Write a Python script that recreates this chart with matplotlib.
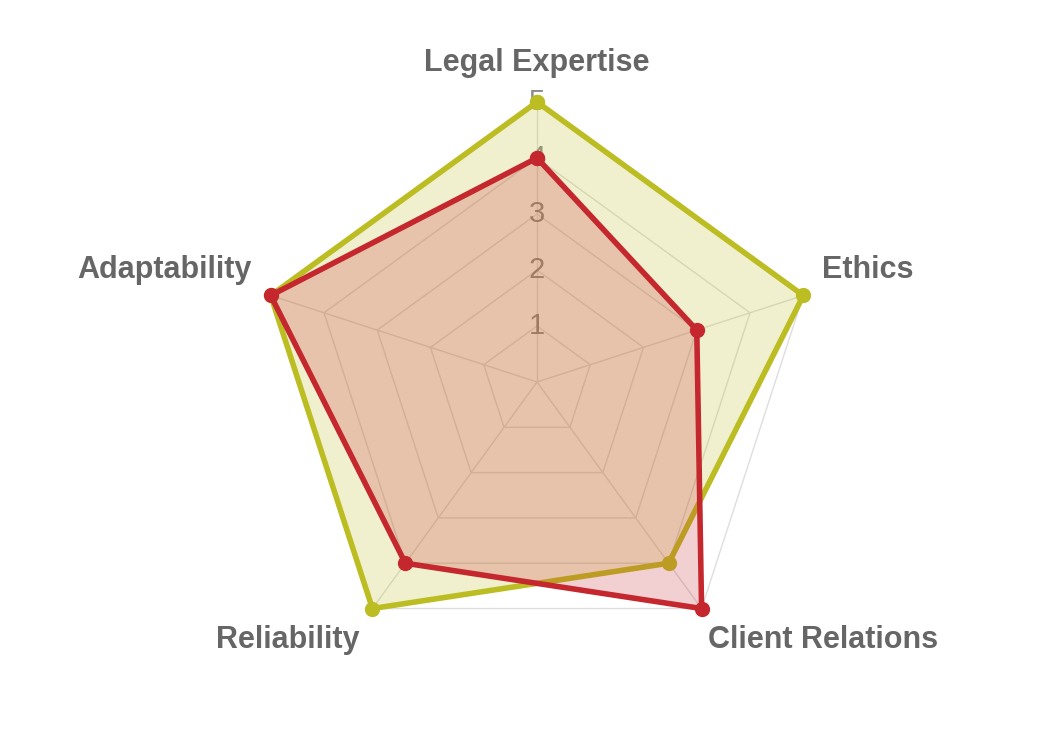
import numpy as np
import matplotlib
matplotlib.use('Agg')
import matplotlib.pyplot as plt

plt.rcParams['font.family'] = ['Liberation Sans', 'DejaVu Sans']

categories = ['Legal Expertise', 'Ethics', 'Client Relations', 'Reliability', 'Adaptability']
series_a = [5, 5, 4, 5, 5]   # olive
series_b = [4, 3, 5, 4, 5]   # red
levels = [1, 2, 3, 4, 5]

olive = '#bcbd22'
red = '#c4272d'
grid_col = '#dedede'

W, H = 1038, 733
cx, cy, R = 537, 382, 280

fig = plt.figure(figsize=(W / 100, H / 100), dpi=100)
ax = fig.add_axes([(cx - R) / W, (H - cy - R) / H, 2 * R / W, 2 * R / H], projection='polar')
ax.set_theta_offset(np.pi / 2)
ax.set_theta_direction(-1)
ax.set_ylim(0, 5)
ax.grid(False)
ax.spines['polar'].set_visible(False)
ax.set_xticks([])
ax.set_yticks([])
ax.patch.set_alpha(0)

n = len(categories)
angles = np.linspace(0, 2 * np.pi, n, endpoint=False)
ang_c = np.append(angles, angles[0])

# pentagon grid + spokes
for lv in levels:
    ax.plot(ang_c, [lv] * (n + 1), color=grid_col, lw=1, zorder=1)
for a in angles:
    ax.plot([a, a], [0, 5], color=grid_col, lw=1, zorder=1)

# tick labels
for lv in levels:
    ax.text(0, lv, str(lv), ha='center', va='center', fontsize=21, color='#666666',
            alpha=0.75, zorder=2,
            bbox=dict(facecolor='white', alpha=0.12, edgecolor='none', pad=1))

def draw(vals, col, z):
    v = np.append(vals, vals[0])
    ax.fill(ang_c, v, color=col, alpha=0.22, lw=0, zorder=z)
    ax.plot(ang_c, v, color=col, lw=4, zorder=z + 0.5, clip_on=False,
            marker='o', markersize=11, markeredgewidth=0, solid_joinstyle='miter')

draw(series_a, olive, 3)
draw(series_b, red, 5)

# axis labels
lab_kw = dict(fontsize=22, fontweight='bold', color='#666666', va='center')
fig.text(537 / W, 1 - 63 / H, categories[0], ha='center', **lab_kw)
fig.text(822 / W, 1 - 270 / H, categories[1], ha='left', **lab_kw)
fig.text(708 / W, 1 - 640 / H, categories[2], ha='left', **lab_kw)
fig.text(360 / W, 1 - 640 / H, categories[3], ha='right', **lab_kw)
fig.text(252 / W, 1 - 270 / H, categories[4], ha='right', **lab_kw)

fig.savefig('out.png', dpi=100)
